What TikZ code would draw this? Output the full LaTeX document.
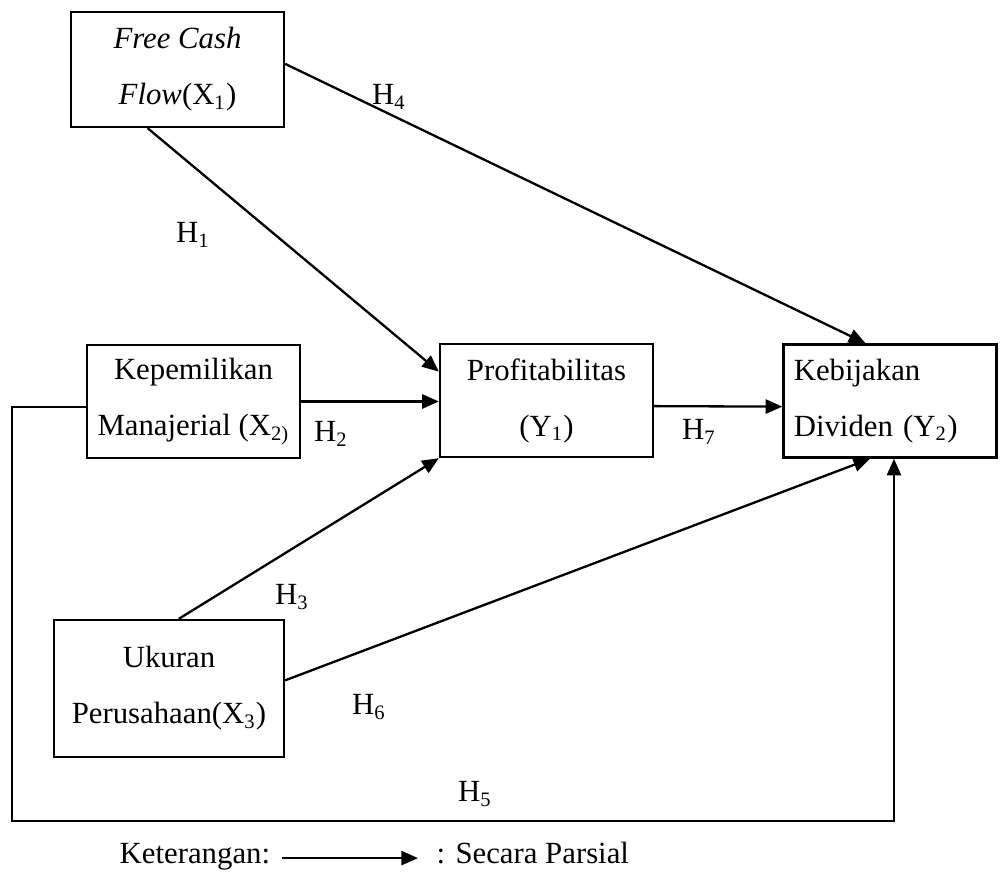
\documentclass[tikz,border=0pt]{standalone}
\usepackage{fontspec}
\setmainfont{Liberation Serif}
\usetikzlibrary{arrows.meta}
\begin{document}
\begin{tikzpicture}[x=0.0137cm, y=-0.0137cm, line width=0.9pt]
		\tikzset{bx/.style={draw, rectangle, align=center, minimum width=2.918cm, minimum height=1.55cm, font=\fontsize{12}{21.8}\selectfont}}
		\tikzset{lbl/.style={font=\fontsize{12}{14}\selectfont}}
		\tikzset{arr/.style={-{Triangle[length=6.5pt, width=5.5pt]}}}

		\useasboundingbox (0, 0) rectangle (1000, 888);

		\node[bx, minimum height=1.576cm] (fcf) at (177.5, 69.5) {\textit{Free Cash}\\\textit{Flow}(X\textsubscript{1})};
		\node[bx, inner xsep=2pt] (kep) at (193.5, 401.5) {Kepemilikan\\Manajerial (X\textsubscript{2)}};
		\node[bx] (prof) at (546.5, 400.5) {Profitabilitas\\(Y\textsubscript{1})};
		\node[bx, align=left, text width=2.636cm] (keb) at (890, 401) {Kebijakan\\Dividen (Y\textsubscript{2})};
		\node[bx, minimum width=3.151cm, minimum height=1.877cm] (uk) at (169, 688.5) {Ukuran\\Perusahaan(X\textsubscript{3})};

		\node[lbl] (h1) at (193, 235) {H\textsubscript{1}};
		\node[lbl] (h2) at (331, 434) {H\textsubscript{2}};
		\node[lbl] (h3) at (292, 597) {H\textsubscript{3}};
		\node[lbl] (h4) at (389, 97) {H\textsubscript{4}};
		\node[lbl] (h5) at (475, 794) {H\textsubscript{5}};
		\node[lbl] (h6) at (369, 707) {H\textsubscript{6}};
		\node[lbl] (h7) at (699, 432) {H\textsubscript{7}};

		\coordinate (ll) at (12, 821);
		\coordinate (lr) at (894, 821);

		\draw[arr] (fcf.243) to (prof.165);
		\draw[arr] (fcf.3) to (keb.113);

		\draw[arr] (kep.east) to (kep.east -| prof.west);
		\draw[arr] (kep.183) -| (ll) -- (lr) -- (lr |- keb.south);

		\draw[arr] (uk.82) to (prof.south west);
		\draw[arr] (uk.4) to (keb.251);

		\draw[arr] (prof.-3) to (keb.183);

		\node[lbl, anchor=base west] (ket) at (110, 864) {Keterangan:};
		\node[lbl, anchor=base west] (par) at (427, 864) {: Secara Parsial};
		\draw[arr, shorten <=1pt, shorten >=3.5pt] (ket.mid east) to (par.mid west);
	\end{tikzpicture}
\end{document}
